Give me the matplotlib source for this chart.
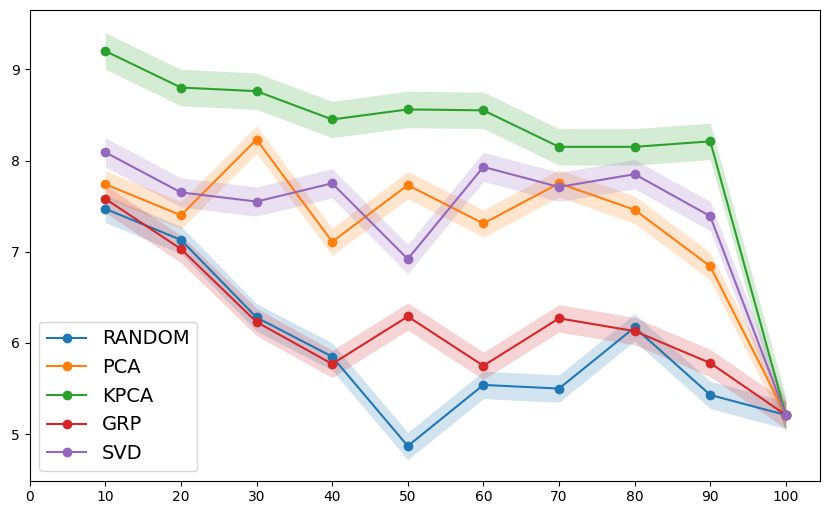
import matplotlib
matplotlib.use("Agg")
import matplotlib.pyplot as plt
import numpy as np

x = [10, 20, 30, 40, 50, 60, 70, 80, 90, 100]
random_vals = [7.47, 7.13, 6.28, 5.85, 4.87, 5.54, 5.50, 6.17, 5.43, 5.21]
pca_vals = [7.74, 7.40, 8.23, 7.11, 7.73, 7.31, 7.75, 7.46, 6.84, 5.21]
kpca_vals = [9.20, 8.80, 8.76, 8.45, 8.56, 8.55, 8.15, 8.15, 8.21, 5.21]
grp_vals = [7.58, 7.03, 6.23, 5.77, 6.29, 5.75, 6.27, 6.13, 5.78, 5.21]
svd_vals = [8.09, 7.65, 7.55, 7.75, 6.92, 7.93, 7.71, 7.85, 7.39, 5.21]
labels = ["RANDOM", "PCA", "KPCA", "GRP", "SVD"]
spread = [0.15, 0.15, 0.2, 0.15, 0.16]

series = [random_vals, pca_vals, kpca_vals, grp_vals, svd_vals]

fig = plt.figure(figsize=(8.3, 5.15), dpi=100)
ax = fig.add_axes([0.0358, 0.0666, 0.952, 0.914])
for vals, lab, s in zip(series, labels, spread):
    v = np.array(vals)
    line, = ax.plot(x, v, marker="o", label=lab)
    ax.fill_between(x, v - s, v + s, color=line.get_color(), alpha=0.2, linewidth=0)

ax.set_xlim(0, 104.5)
ax.set_ylim(4.49, 9.65)
ax.set_xticks(range(0, 101, 10))
ax.set_yticks([5, 6, 7, 8, 9])
ax.legend(loc="lower left", fontsize=14)
fig.savefig("out.png", dpi=100)
